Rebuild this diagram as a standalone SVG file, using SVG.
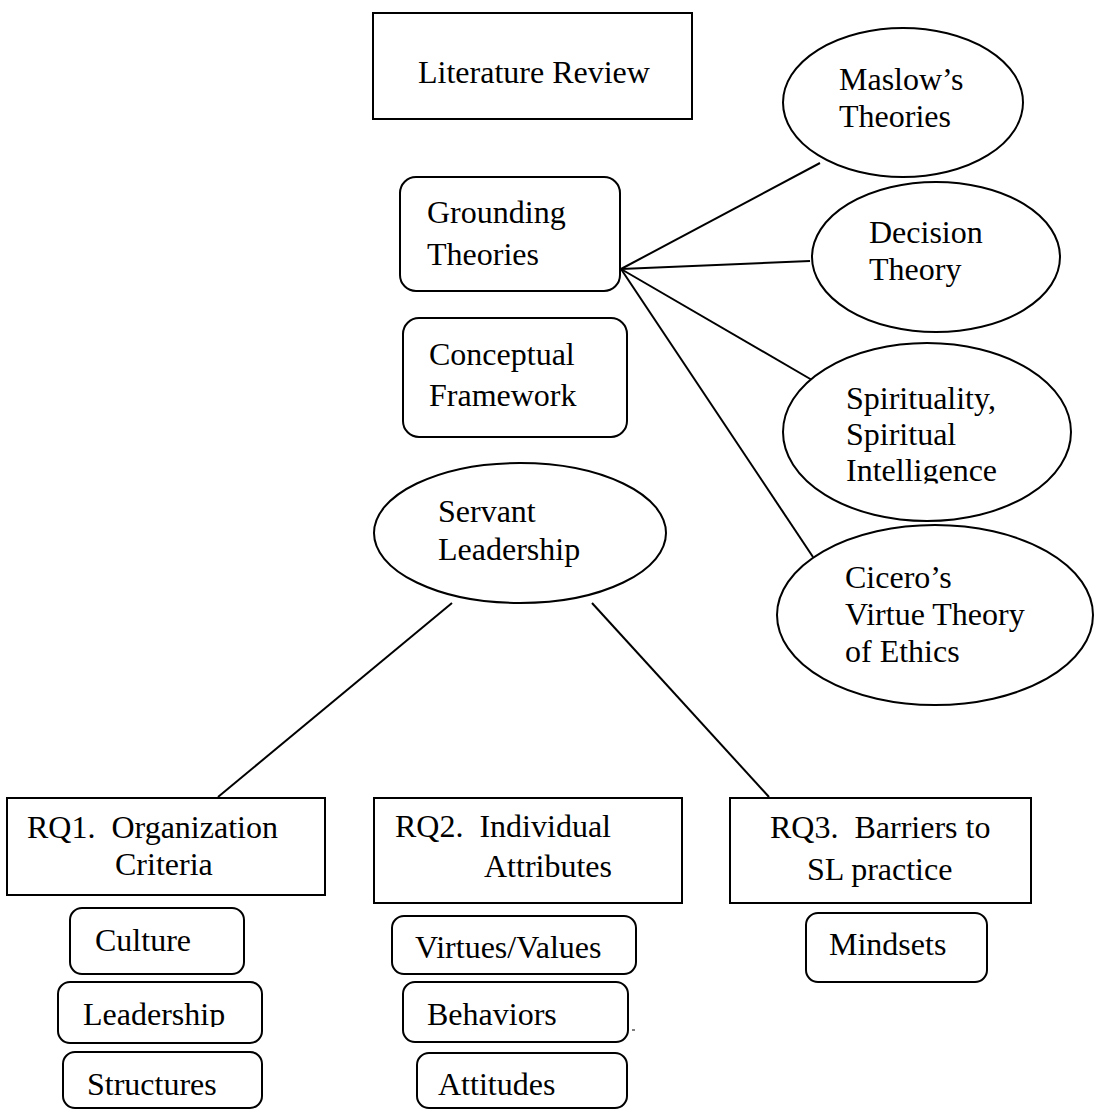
<svg xmlns="http://www.w3.org/2000/svg" width="1095" height="1110" viewBox="0 0 1095 1110">
<style>
.s{fill:#fff;stroke:#000;stroke-width:2}
.t{font-family:"Liberation Serif","Times New Roman",serif;font-size:32px;fill:#000}
.c line{stroke:#000;stroke-width:2}
</style>
<defs>
<clipPath id="clipIntel"><rect x="780" y="440" width="300" height="43.5"/></clipPath>
<clipPath id="clipLead"><rect x="60" y="990" width="200" height="37"/></clipPath>
</defs>
<rect width="1095" height="1110" fill="#fff"/>
<g class="c" id="connectors">
<line x1="621" y1="269" x2="820" y2="163"/>
<line x1="621" y1="269" x2="810" y2="261"/>
<line x1="621" y1="269" x2="812" y2="380"/>
<line x1="621" y1="269" x2="813" y2="557"/>
<line x1="452" y1="603" x2="218" y2="797"/>
<line x1="592" y1="603" x2="769" y2="797"/>
</g>
<g id="literature-review"><rect class="s" x="373" y="13" width="319" height="106"/><text class="t" x="418" y="83">Literature Review</text></g>
<g id="maslow"><ellipse class="s" cx="903" cy="102.5" rx="120" ry="74.5"/><text class="t" x="839" y="90">Maslow’s</text><text class="t" x="839" y="127">Theories</text></g>
<g id="grounding"><rect class="s" x="400" y="177" width="220" height="114" rx="16"/><text class="t" x="427" y="223">Grounding</text><text class="t" x="427" y="265">Theories</text></g>
<g id="decision"><ellipse class="s" cx="936" cy="257" rx="124" ry="75"/><text class="t" x="869" y="243">Decision</text><text class="t" x="869" y="280">Theory</text></g>
<g id="conceptual"><rect class="s" x="403" y="318" width="224" height="119" rx="16"/><text class="t" x="429" y="365">Conceptual</text><text class="t" x="429" y="406">Framework</text></g>
<g id="spirituality"><ellipse class="s" cx="927" cy="432" rx="144" ry="89"/><text class="t" x="846" y="409">Spirituality,</text><text class="t" x="846" y="445">Spiritual</text><text class="t" x="846" y="481" clip-path="url(#clipIntel)">Intelligence</text></g>
<g id="servant"><ellipse class="s" cx="520" cy="533" rx="146" ry="70"/><text class="t" x="438" y="522">Servant</text><text class="t" x="438" y="560">Leadership</text></g>
<g id="cicero"><ellipse class="s" cx="935" cy="615" rx="158" ry="90"/><text class="t" x="845" y="588">Cicero’s</text><text class="t" x="845" y="625">Virtue Theory</text><text class="t" x="845" y="662">of Ethics</text></g>
<g id="rq1"><rect class="s" x="7" y="798" width="318" height="97"/><text class="t" x="27" y="838" xml:space="preserve">RQ1.  Organization</text><text class="t" x="115" y="875">Criteria</text></g>
<g id="rq2"><rect class="s" x="374" y="798" width="308" height="105"/><text class="t" x="395" y="837" xml:space="preserve">RQ2.  Individual</text><text class="t" x="484" y="877">Attributes</text></g>
<g id="rq3"><rect class="s" x="730" y="798" width="301" height="105"/><text class="t" x="770" y="838" xml:space="preserve">RQ3.  Barriers to</text><text class="t" x="807" y="880">SL practice</text></g>
<g id="culture"><rect class="s" x="70" y="908" width="174" height="66" rx="12"/><text class="t" x="95" y="951">Culture</text></g>
<g id="leadership"><rect class="s" x="58" y="982" width="204" height="61" rx="12"/><text class="t" x="83" y="1025" clip-path="url(#clipLead)">Leadership</text></g>
<g id="structures"><rect class="s" x="63" y="1052" width="199" height="56" rx="12"/><text class="t" x="87" y="1095">Structures</text></g>
<g id="virtues"><rect class="s" x="392" y="916" width="244" height="58" rx="12"/><text class="t" x="415" y="958">Virtues/Values</text></g>
<g id="behaviors"><rect class="s" x="403" y="982" width="225" height="60" rx="12"/><text class="t" x="427" y="1025">Behaviors</text></g>
<line x1="632" y1="1030" x2="635" y2="1030" stroke="#000" stroke-width="1"/>
<g id="attitudes"><rect class="s" x="417" y="1053" width="210" height="55" rx="12"/><text class="t" x="438" y="1095">Attitudes</text></g>
<g id="mindsets"><rect class="s" x="806" y="913" width="181" height="69" rx="12"/><text class="t" x="829" y="955">Mindsets</text></g>
</svg>
